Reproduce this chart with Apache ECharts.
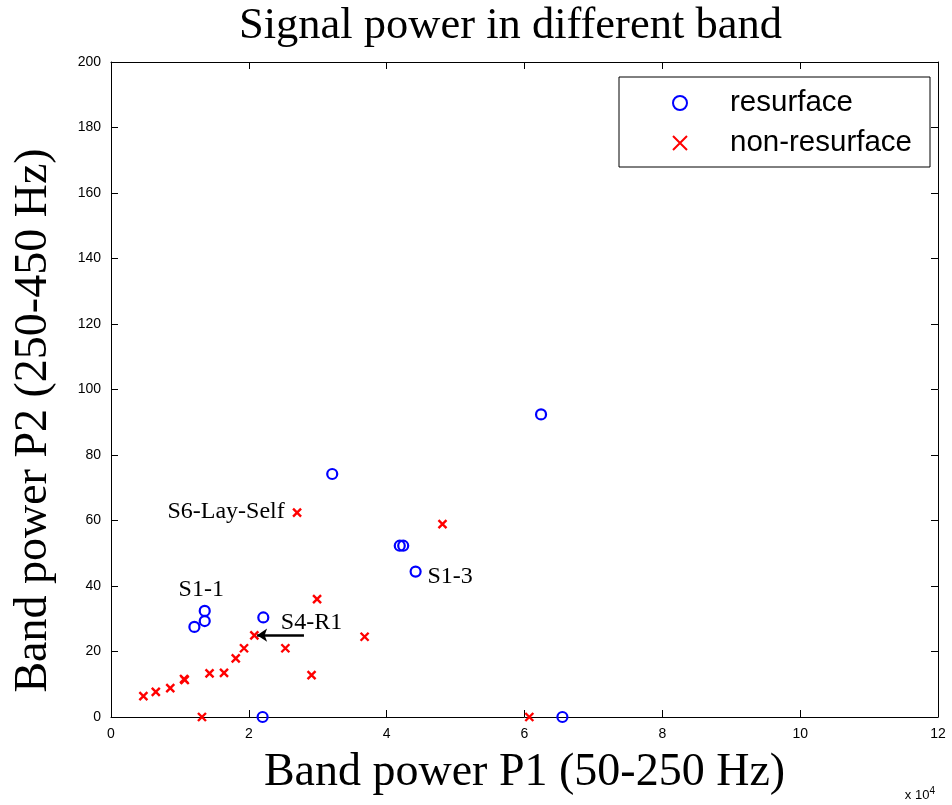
<!DOCTYPE html>
<html><head><meta charset="utf-8">
<script src="https://cdn.jsdelivr.net/npm/echarts@6/dist/echarts.min.js"></script>
<style>html,body{margin:0;padding:0;background:#fff}#c{width:952px;height:805px}</style>
</head><body><div id="c"></div>
<script>
// Data (x in units of 10^4)
var resurface = [
  [1.21, 27.5], [1.36, 32.4], [1.36, 29.3], [2.21, 30.4], [2.20, 0],
  [3.21, 74.2], [4.19, 52.3], [4.24, 52.3], [4.42, 44.4], [6.24, 92.4], [6.55, 0]
];
var nonResurface = [
  [0.47, 6.4], [0.65, 7.7], [0.86, 8.8], [1.06, 11.6], [1.07, 11.3],
  [1.43, 13.3], [1.64, 13.5], [1.81, 17.9], [1.93, 21.0], [2.08, 24.9],
  [1.32, 0], [2.53, 21.0], [2.99, 36.0], [2.91, 12.8], [3.68, 24.5],
  [2.70, 62.4], [4.81, 58.9], [6.07, 0]
];
var annotations = [
  {name: 'S6-Lay-Self', value: [1.67, 62.8]},
  {name: 'S1-1', value: [1.31, 39.0]},
  {name: 'S1-3', value: [4.92, 42.7]},
  {name: 'S4-R1', value: [2.91, 28.7]}
];
var arrowFrom = [2.80, 25.0];
var arrowTo = [2.12, 25.0];
var xTicks = {min: 0, max: 12, interval: 2};
var yTicks = {min: 0, max: 200, interval: 20};

var cross = 'path://M0,0L10,10M10,0L0,10';
function tick() { return {show: true, inside: true, length: 7, lineStyle: {color: '#000', width: 1}}; }
function line() { return {show: true, onZero: false, lineStyle: {color: '#000', width: 1}}; }
function lab() { return {margin: 10, fontFamily: 'Liberation Sans', fontSize: 14, color: '#000'}; }

var chart = echarts.init(document.getElementById('c'));
chart.setOption({
  animation: false,
  backgroundColor: '#fff',
  title: {
    text: 'Signal power in different band',
    left: 234, top: -1,
    textStyle: {fontFamily: 'Liberation Serif', fontSize: 44.5, fontWeight: 'normal', color: '#000'}
  },
  grid: {left: 111, right: 14, top: 62, bottom: 88},
  legend: {
    orient: 'vertical',
    left: 619, top: 77,
    padding: [11, 18, 9, 53],
    itemGap: 10,
    itemWidth: 14, itemHeight: 14,
    backgroundColor: '#fff',
    borderColor: '#000', borderWidth: 1,
    textStyle: {fontFamily: 'Liberation Sans', fontSize: 29.5, lineHeight: 30, color: '#000', padding: [0, 0, 0, 38]},
    data: ['resurface', 'non-resurface']
  },
  xAxis: [{
    type: 'value', min: xTicks.min, max: xTicks.max, interval: xTicks.interval,
    axisLine: line(), axisTick: tick(), splitLine: {show: false},
    axisLabel: lab(),
    name: 'Band power P1 (50-250 Hz)', nameLocation: 'middle', nameGap: 33,
    nameTextStyle: {fontFamily: 'Liberation Serif', fontSize: 46, color: '#000'}
  }, {
    type: 'value', position: 'top', min: xTicks.min, max: xTicks.max, interval: xTicks.interval,
    axisLine: line(), axisTick: tick(), axisLabel: {show: false}, splitLine: {show: false}
  }],
  yAxis: [{
    type: 'value', min: yTicks.min, max: yTicks.max, interval: yTicks.interval,
    axisLine: line(), axisTick: tick(), splitLine: {show: false},
    axisLabel: lab(),
    name: 'Band power P2 (250-450 Hz)', nameLocation: 'middle', nameGap: 54, nameRotate: 90,
    nameTextStyle: {fontFamily: 'Liberation Serif', fontSize: 46, color: '#000', padding: [0, 62, 0, 0]}
  }, {
    type: 'value', position: 'right', min: yTicks.min, max: yTicks.max, interval: yTicks.interval,
    axisLine: line(), axisTick: tick(), axisLabel: {show: false}, splitLine: {show: false}
  }],
  graphic: [{
    type: 'text', right: 17, bottom: 3,
    style: {
      text: '{a|x 10}{b|4}',
      rich: {
        a: {fontFamily: 'Liberation Sans', fontSize: 13, fill: '#000'},
        b: {fontFamily: 'Liberation Sans', fontSize: 10, fill: '#000', verticalAlign: 'top', padding: [0, 0, 8, 0]}
      }
    }
  }],
  series: [{
    name: 'resurface', type: 'scatter', data: resurface,
    symbol: 'circle', symbolSize: 10,
    itemStyle: {color: 'rgba(255,255,255,0)', borderColor: '#0000ff', borderWidth: 2.2, opacity: 1},
    z: 3
  }, {
    name: 'non-resurface', type: 'scatter', data: nonResurface,
    symbol: cross, symbolSize: 8,
    itemStyle: {color: 'rgba(255,0,0,0)', borderColor: '#ff0000', borderWidth: 2.4, opacity: 1},
    z: 2
  }, {
    name: 'annotations', type: 'scatter', data: annotations,
    symbolSize: 0, silent: true,
    itemStyle: {opacity: 1},
    label: {
      show: true, position: 'inside', formatter: '{b}',
      fontFamily: 'Liberation Serif', fontSize: 24, color: '#000', opacity: 1
    },
    markLine: {
      silent: true, symbolSize: [10, 10], precision: 4,
      lineStyle: {color: '#000', width: 2.5, type: 'solid', opacity: 1},
      label: {show: false},
      data: [[{coord: arrowFrom, symbol: 'none'}, {coord: arrowTo, symbol: 'arrow'}]]
    }
  }]
});
</script>
</body></html>
